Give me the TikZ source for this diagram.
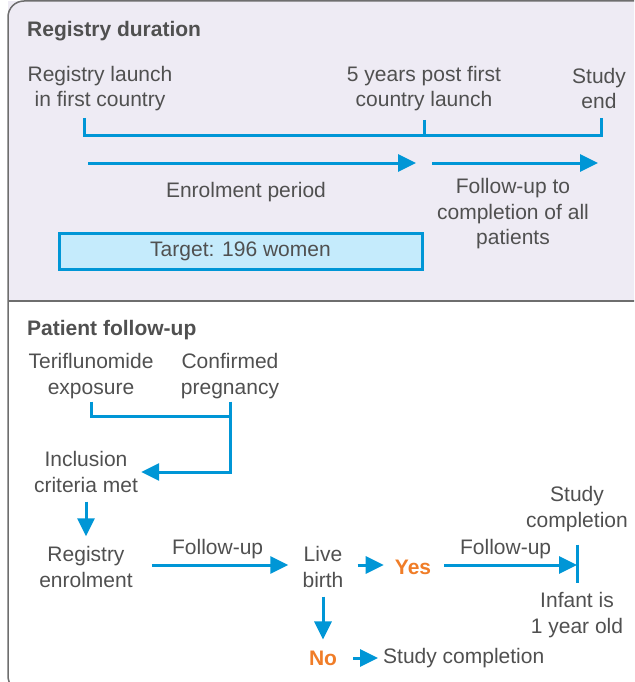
\documentclass[tikz,border=0pt]{standalone}
\usepackage{fontspec}
\setmainfont{Liberation Sans}
\usetikzlibrary{arrows.meta}
\definecolor{lineblue}{RGB}{0,150,214}
\definecolor{txtgray}{RGB}{80,80,80}
\definecolor{answerorange}{RGB}{240,125,40}
\definecolor{panelfill}{RGB}{238,235,244}
\definecolor{targetfill}{RGB}{197,235,252}
\definecolor{framegray}{RGB}{110,110,110}
\newcommand{\bodyfont}{\fontsize{21}{25.5}\selectfont}
\tikzstyle{txt} = [align=center, inner sep=3pt, text=txtgray, font=\bodyfont]
\tikzstyle{heading} = [anchor=west, inner sep=0pt, text=txtgray, font=\bodyfont\bfseries]
\tikzstyle{answer} = [inner sep=3pt, text=answerorange, font=\bodyfont\bfseries]
\tikzstyle{target} = [rectangle, minimum width=363pt, minimum height=36pt, draw=lineblue, line width=3pt, fill=targetfill, text=txtgray, font=\bodyfont]
\tikzstyle{link} = [draw=lineblue, line width=3pt]
\tikzstyle{flow} = [link, -{Triangle[length=18pt,width=17pt]}]

\begin{document}
\begin{tikzpicture}[x=1pt, y=-1pt]
    \useasboundingbox (0,0) rectangle (634,682);
    \clip (0,0) rectangle (634,682);
    % frame
    \fill[panelfill] (8,1) rectangle (640,301);
    \draw[framegray, line width=1.5pt, rounded corners=16pt] (640,1) -- (8,1) -- (8,692) -- (640,692);
    \draw[framegray, line width=1.5pt] (8,301) -- (640,301);

    % registry duration
    \node (dur) [heading] at (27,31) {Registry duration};
    \node (launch) [txt] at (100,88.5) {Registry launch\\in first country};
    \node (post) [txt] at (424,88.5) {5 years post first\\country launch};
    \node (end) [txt] at (599,88.5) {Study\\end};
    \coordinate (l1) at (84,118);
    \coordinate (l2) at (424,120);
    \coordinate (l3) at (601,118);
    \coordinate (b1) at (84,135);
    \coordinate (b3) at (601,135);
    \draw [link] (l1) -- (b1) -- (b3) -- (l3);
    \draw [link] (l2) -- (l2 |- b1);
    \coordinate (e1) at (88,163);
    \coordinate (e2) at (416,163);
    \coordinate (f1) at (432,163);
    \coordinate (f2) at (598,163);
    \draw [flow] (e1) -- (e2);
    \draw [flow] (f1) -- (f2);
    \node (enrol) [txt] at (246,192) {Enrolment period};
    \node (fu) [txt] at (513,214) {Follow-up to\\completion of all\\patients};
    \node (goal) [target] at (240.5,251) {Target: 196 women};

    % patient follow-up
    \node (pfu) [heading] at (27,330) {Patient follow-up};
    \node (teri) [txt] at (91,376) {Teriflunomide\\exposure};
    \node (conf) [txt] at (230,376) {Confirmed\\pregnancy};
    \node (incl) [txt] at (86,472) {Inclusion\\criteria met};
    \node (reg) [txt] at (86,567) {Registry\\enrolment};
    \node (live) [txt] at (323,567) {Live\\birth};
    \node (yes) [answer] at (413,567) {Yes};
    \node (done) [txt] at (577,509) {Study\\completion};
    \node (infant) [txt] at (577,615) {Infant is\\1 year old};
    \node (no) [answer] at (323,658) {No};
    \node (nodone) [txt, anchor=west] at (380,658) {Study completion};
    \coordinate (jn) at (230,416);
    \coordinate (fin) at (577,565);

    \draw [link] (teri.south) |- (jn);
    \draw [flow] (conf.south) |- (incl.east);
    \draw [flow, shorten <=6pt, shorten >=7pt] (incl) -- (reg);
    \draw [flow, shorten <=16pt, shorten >=11pt] (reg.east |- fin) -- node[txt, above=2pt] {Follow-up} (live.west |- fin);
    \draw [flow, shorten <=11pt, shorten >=8pt] (live.east |- fin) -- (yes.west |- fin);
    \draw [flow, shorten <=10pt] (yes.east |- fin) -- node[txt, above=2pt] {Follow-up} (fin);
    \draw [link, shorten <=10pt, shorten >=6pt] (done) -- (infant);
    \draw [flow, shorten <=6pt, shorten >=8pt] (live) -- (no);
    \draw [flow, shorten <=13pt, shorten >=2pt] (no) -- (nodone);
\end{tikzpicture}
\end{document}
